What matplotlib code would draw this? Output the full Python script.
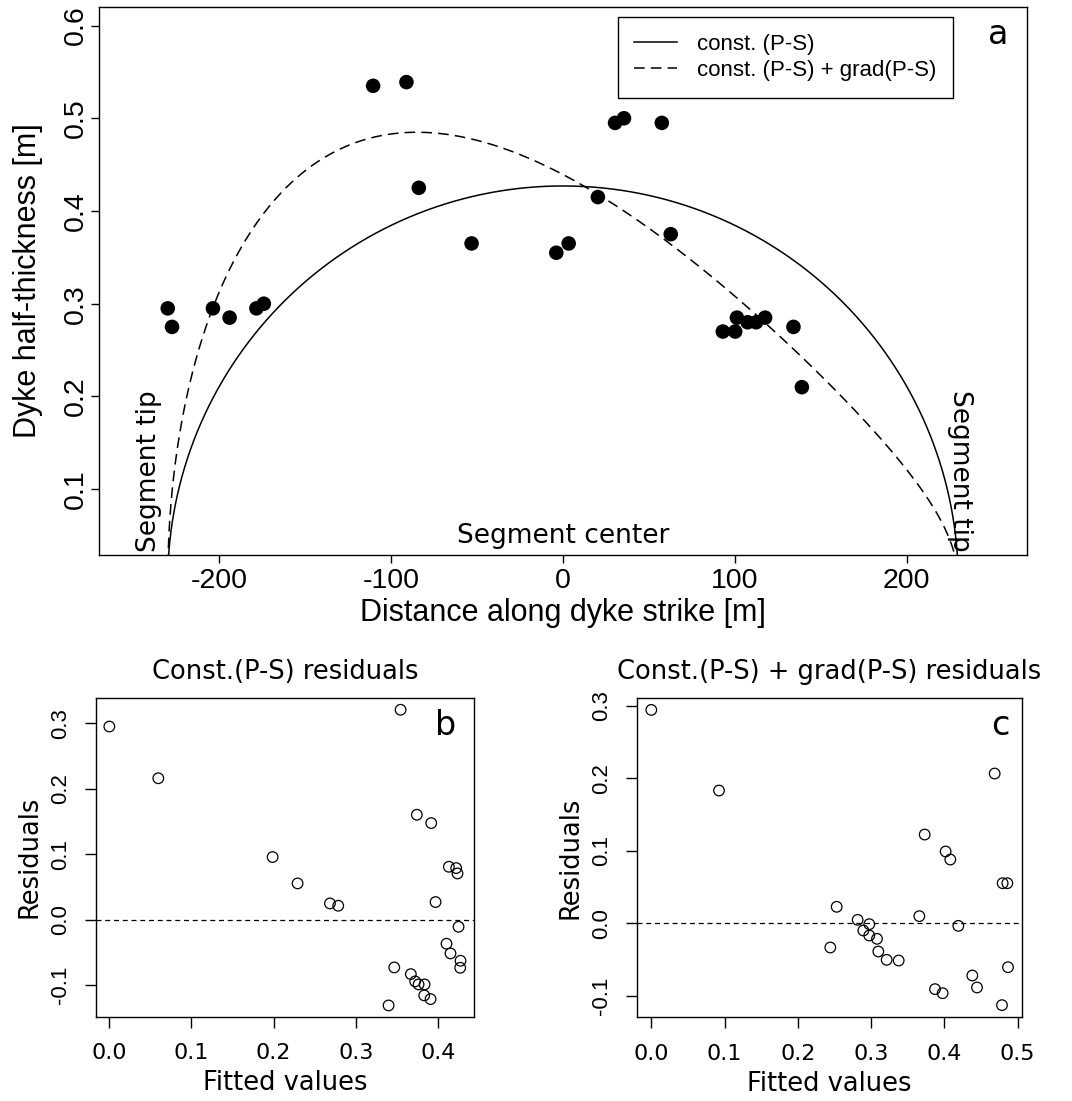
import numpy as np
import matplotlib
matplotlib.use("Agg")
import matplotlib.pyplot as plt
from matplotlib.lines import Line2D

plt.rcParams["axes.unicode_minus"] = False

# panel a: measured half-thickness along strike
distance_m = [-230, -227.5, -203.7, -194, -178.4, -174.1, -127, -110.5, -91.1,
              -83.9, -53.2, -3.9, 3.3, 20.3, 30.3, 35.5, 57.5, 62.7, 93,
              100.2, 101.2, 107.4, 112.4, 117.6, 134.1, 139]
half_thick_m = [0.295, 0.275, 0.295, 0.285, 0.295, 0.300, 0.675, 0.535, 0.539,
                0.425, 0.365, 0.355, 0.365, 0.415, 0.495, 0.500, 0.495, 0.375,
                0.270, 0.270, 0.285, 0.280, 0.280, 0.285, 0.275, 0.210]

# fitted crack models (half length, centre opening, gradient term)
HALF_LEN = 230.0
CONST_W0 = 0.427
GRAD_C0 = 0.4393
GRAD_K = -0.2234

# panel b residuals
fit_const = [0.0, 0.0596, 0.3546, 0.3744, 0.3919, 0.1988, 0.2292, 0.2686,
             0.2787, 0.4134, 0.4223, 0.4239, 0.3972, 0.4252, 0.4105, 0.4154,
             0.4276, 0.4272, 0.3469, 0.3671, 0.3724, 0.3765, 0.3838, 0.3834,
             0.3911, 0.3400]
res_const = [0.295, 0.216, 0.3206, 0.1603, 0.1476, 0.0957, 0.0555, 0.0249,
             0.0214, 0.0809, 0.0789, 0.0707, 0.0270, -0.0107, -0.0366,
             -0.0514, -0.0626, -0.0733, -0.0728, -0.0830, -0.0941, -0.0987,
             -0.0987, -0.1155, -0.1211, -0.1308]

# panel c residuals
fit_grad = [0.0, 0.0924, 0.4686, 0.3731, 0.4017, 0.4081, 0.4795, 0.4859,
            0.2530, 0.3658, 0.2816, 0.2975, 0.4190, 0.2894, 0.2975, 0.3080,
            0.3098, 0.2443, 0.3212, 0.3376, 0.4868, 0.4381, 0.4445, 0.3872,
            0.3976, 0.4786]
res_grad = [0.2946, 0.1832, 0.2067, 0.1224, 0.0990, 0.0879, 0.0552, 0.0552,
            0.0226, 0.0097, 0.0046, -0.0014, -0.0037, -0.0101, -0.0170,
            -0.0216, -0.0391, -0.0336, -0.0506, -0.0516, -0.0608, -0.0723,
            -0.0888, -0.0911, -0.0967, -0.1132]

HELV = "Liberation Sans"
DEJA = "DejaVu Sans"
W, H = 1072, 1101


def ax_rect(left, top, right, bottom):
    return [left / W, 1 - bottom / H, (right - left) / W, (bottom - top) / H]


def style_axes(ax, tick_len, xfont, xsize, yfont, ysize, xpad, ypad):
    for s in ax.spines.values():
        s.set_linewidth(1.0)
    ax.tick_params(direction="out", length=tick_len, width=1.0)
    ax.tick_params(axis="x", pad=xpad)
    ax.tick_params(axis="y", pad=ypad)
    for lab in ax.get_xticklabels():
        lab.set_fontfamily(xfont)
        lab.set_fontsize(xsize)
    for lab in ax.get_yticklabels():
        lab.set_fontfamily(yfont)
        lab.set_fontsize(ysize)
        lab.set_rotation(90)
        lab.set_verticalalignment("center")
        lab.set_horizontalalignment("right")


fig = plt.figure(figsize=(W / 100, H / 100), dpi=100)

# ---- panel a ----
ax = fig.add_axes(ax_rect(99, 7, 1027, 555))
xs = np.linspace(-HALF_LEN, HALF_LEN, 2001)
shape = np.sqrt(np.clip(1 - (xs / HALF_LEN) ** 2, 0, None))
ax.plot(xs, CONST_W0 * shape, color="black", lw=1.1)
ax.plot(xs, shape * (GRAD_C0 + GRAD_K * xs / HALF_LEN), color="black",
        lw=1.1, dashes=(7, 4))
ax.scatter(distance_m, half_thick_m, s=110, color="black", zorder=3,
           edgecolors="none")
ax.set_xlim(-270, 270)
ax.set_ylim(0.029, 0.62)
ax.set_xticks([-200, -100, 0, 100, 200])
ax.set_yticks([0.1, 0.2, 0.3, 0.4, 0.5, 0.6])
style_axes(ax, 5.5, HELV, 20.5, HELV, 20.5, 4, 2)
ax.set_xlabel("Distance along dyke strike [m]", family=HELV, fontsize=22,
              va="center")
ax.xaxis.set_label_coords(0.5, -0.106)
ax.set_ylabel("Dyke half-thickness [m]", family=HELV, fontsize=22,
              va="center")
ax.yaxis.set_label_coords(-0.0765, 0.5)
ax.text(-241, 0.032, "Segment tip", rotation=90, ha="center", va="bottom",
        family=DEJA, fontsize=19)
ax.text(231, 0.032, "Segment tip", rotation=-90, ha="center", va="bottom",
        family=DEJA, fontsize=19)
ax.text(0, 0.05, "Segment center", ha="center", va="center", family=DEJA,
        fontsize=19)
ax.text(0.969, 0.949, "a", transform=ax.transAxes, ha="center", va="center",
        family=DEJA, fontsize=24)
handles = [Line2D([], [], color="black", lw=1.1),
           Line2D([], [], color="black", lw=1.1, dashes=(7, 4))]
leg = ax.legend(handles, ["const. (P-S)", "const. (P-S) + grad(P-S)"],
                loc="upper right", bbox_to_anchor=(0.920, 0.982),
                prop={"family": HELV, "size": 16}, frameon=True,
                fancybox=False, framealpha=1, edgecolor="black",
                handlelength=1.9, handletextpad=0.9, labelspacing=0.25,
                borderpad=0.75, borderaxespad=0)
leg.get_frame().set_linewidth(1.0)

# ---- panel b ----
axb = fig.add_axes(ax_rect(95.7, 697.7, 474, 1016.7))
axb.scatter(fit_const, res_const, s=58, facecolors="none",
            edgecolors="black", linewidths=0.9)
axb.axhline(0, color="black", lw=0.9, dashes=(4, 3))
axb.set_xlim(-0.0166, 0.444)
axb.set_ylim(-0.148, 0.339)
axb.set_xticks([0.0, 0.1, 0.2, 0.3, 0.4])
axb.set_yticks([-0.1, 0.0, 0.1, 0.2, 0.3])
axb.set_xticklabels(["0.0", "0.1", "0.2", "0.3", "0.4"])
axb.set_yticklabels(["-0.1", "0.0", "0.1", "0.2", "0.3"])
style_axes(axb, 8, DEJA, 16, HELV, 16, 11, 10)
axb.set_xlabel("Fitted values", family=DEJA, fontsize=18.5, va="center")
axb.xaxis.set_label_coords(0.5, -0.208)
axb.set_ylabel("Residuals", family=DEJA, fontsize=18.5, va="center")
axb.yaxis.set_label_coords(-0.1737, 0.5)
axb.text(0.5, 1.0815, "Const.(P-S) residuals", transform=axb.transAxes,
         ha="center", va="center", family=DEJA, fontsize=18.5)
axb.text(0.925, 0.914, "b", transform=axb.transAxes, ha="center",
         va="center", family=DEJA, fontsize=24)

# ---- panel c ----
axc = fig.add_axes(ax_rect(637.3, 698.3, 1021.7, 1017.3))
axc.scatter(fit_grad, res_grad, s=58, facecolors="none",
            edgecolors="black", linewidths=0.9)
axc.axhline(0, color="black", lw=0.9, dashes=(4, 3))
axc.set_xlim(-0.0191, 0.5055)
axc.set_ylim(-0.130, 0.3106)
axc.set_xticks([0.0, 0.1, 0.2, 0.3, 0.4, 0.5])
axc.set_yticks([-0.1, 0.0, 0.1, 0.2, 0.3])
axc.set_xticklabels(["0.0", "0.1", "0.2", "0.3", "0.4", "0.5"])
axc.set_yticklabels(["-0.1", "0.0", "0.1", "0.2", "0.3"])
style_axes(axc, 8, DEJA, 16, HELV, 16, 11, 10)
axc.set_xlabel("Fitted values", family=DEJA, fontsize=18.5, va="center")
axc.xaxis.set_label_coords(0.5, -0.208)
axc.set_ylabel("Residuals", family=DEJA, fontsize=18.5, va="center")
axc.yaxis.set_label_coords(-0.175, 0.5)
axc.text(0.5, 1.083, "Const.(P-S) + grad(P-S) residuals",
         transform=axc.transAxes, ha="center", va="center", family=DEJA,
         fontsize=18.5)
axc.text(0.9436, 0.916, "c", transform=axc.transAxes, ha="center",
         va="center", family=DEJA, fontsize=24)

fig.savefig("out.png", dpi=100)
